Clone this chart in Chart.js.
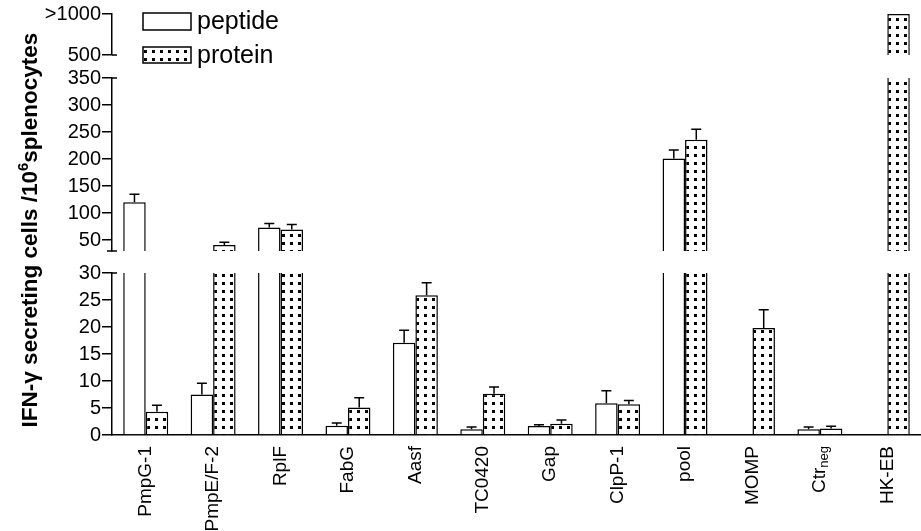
<!DOCTYPE html>
<html>
<head>
<meta charset="utf-8">
<script src="https://cdn.jsdelivr.net/npm/chart.js@4/dist/chart.umd.min.js"></script>
<style>
  html, body { margin: 0; padding: 0; background: #fff; }
  #wrap { position: relative; width: 921px; height: 531px; }
</style>
</head>
<body>
<div id="wrap"><canvas id="chart"></canvas></div>
<script>
// values
const categories = ['PmpG-1', 'PmpE/F-2', 'RplF', 'FabG', 'Aasf', 'TC0420', 'Gap', 'ClpP-1', 'pool', 'MOMP', 'Ctr_neg', 'HK-EB'];
const seriesNames = ['peptide', 'protein'];
const peptide    = [120, 7.5, 73.5, 1.7, 17.1, 1.05, 1.65, 5.9, 201, null, 1.05, null];
const peptideErr = [15, 2.1, 7.5, 0.5, 2.3, 0.45, 0.25, 2.3, 16, null, 0.45, null];
const protein    = [4.3, 41, 70, 5.1, 25.9, 7.65, 2.1, 5.7, 236, 19.8, 1.2, 1000];
const proteinErr = [1.2, 5, 9, 1.8, 2.3, 1.25, 0.7, 0.7, 19, 3.4, 0.4, null];

// broken y axis, three pieces
const topRange = [500, 1000];
const midRange = [30, 350];
const botRange = [0, 30];
const topTicks = [500, 1000];
const midTicks = [50, 100, 150, 200, 250, 300, 350];
const botTicks = [0, 5, 10, 15, 20, 25, 30];

const FONT = '"Liberation Sans", Arial, Helvetica, sans-serif';
const LW = 1.5;

// dotted fill used for the protein bars
const tile = document.createElement('canvas');
tile.width = 8; tile.height = 8;
(function () {
  const t = tile.getContext('2d');
  t.fillStyle = '#fff'; t.fillRect(0, 0, 8, 8);
  t.fillStyle = '#000'; t.fillRect(1, 2, 3, 3);
})();
function dots(ctx, x) {
  const p = ctx.createPattern(tile, 'repeat');
  p.setTransform(new DOMMatrix([1, 0, 0, 1, Math.round(x), 0]));
  return p;
}

// split a series over the three pieces of the axis
function piece(vals, range, isBottom) {
  return vals.map(v => {
    if (v == null) return null;
    if (isBottom) return Math.min(v, range[1]);
    if (v <= range[0]) return null;
    return [range[0], Math.min(v, range[1])];
  });
}

function makeSet(vals, range, axis, isBottom, isProtein) {
  return {
    label: isProtein ? seriesNames[1] : seriesNames[0],
    data: piece(vals, range, isBottom),
    yAxisID: axis,
    stack: isProtein ? 'prot' : 'pep',
    borderColor: '#000',
    borderSkipped: false,
    borderWidth: c => ({ left: LW, right: LW, bottom: 0, top: (vals[c.dataIndex] > range[1]) ? 0 : LW }),
    backgroundColor: c => {
      if (!isProtein) return '#fff';
      if (c.dataIndex === undefined) return dots(c.chart.ctx, 0);
      return dots(c.chart.ctx, c.chart.scales.x.getPixelForValue(c.dataIndex));
    }
  };
}

function yAxis(range, ticks, weight, stackWeight, fmt) {
  return {
    type: 'linear', position: 'left', stack: 'y', stackWeight: stackWeight, weight: weight, stacked: false,
    min: range[0], max: range[1],
    afterBuildTicks: a => { a.ticks = ticks.map(v => ({ value: v })); },
    afterFit: a => { a.width = 112; },
    grid: { drawOnChartArea: false, color: '#000', lineWidth: LW, tickLength: 10 },
    border: { color: '#000', width: LW },
    ticks: { color: '#000', padding: 1, autoSkip: false, font: { family: FONT, size: 20 }, callback: fmt || (v => v) }
  };
}
function gapAxis(weight, stackWeight) {
  return {
    type: 'linear', position: 'left', stack: 'y', stackWeight: stackWeight, weight: weight, min: 0, max: 1,
    afterFit: a => { a.width = 112; },
    ticks: { display: false }, grid: { display: false }, border: { display: false }
  };
}

function panelFor(v) {
  if (v > topRange[0]) return 'yTop';
  if (v > midRange[0]) return 'yMid';
  return 'yBot';
}

const errorBars = {
  id: 'errorBars',
  afterDatasetsDraw(chart) {
    const ctx = chart.ctx;
    ctx.save();
    ctx.strokeStyle = '#000';
    ctx.lineWidth = LW;
    [[peptide, peptideErr, 4], [protein, proteinErr, 5]].forEach(([vals, errs, ds]) => {
      const meta = chart.getDatasetMeta(ds);
      vals.forEach((v, i) => {
        if (v == null || errs[i] == null) return;
        const top = v + errs[i];
        const sc = chart.scales[panelFor(top)];
        const x = meta.data[i].x;
        const y0 = sc.getPixelForValue(Math.max(v, sc.min));
        const y1 = sc.getPixelForValue(top);
        ctx.beginPath();
        ctx.moveTo(x, y0); ctx.lineTo(x, y1);
        ctx.moveTo(x - 5, y1); ctx.lineTo(x + 5, y1);
        ctx.stroke();
      });
    });
    ctx.restore();
  }
};

const decorations = {
  id: 'decorations',
  afterDraw(chart) {
    const ctx = chart.ctx;
    const ax = chart.scales.yBot.right;
    ctx.save();
    ctx.strokeStyle = '#000';
    ctx.lineWidth = LW;
    // caps at the ends of the axis pieces
    ctx.beginPath();
    [chart.scales.yTop.bottom, chart.scales.yMid.top, chart.scales.yBot.top].forEach(y => {
      ctx.moveTo(ax, y); ctx.lineTo(ax + 5, y);
    });
    const mb = chart.scales.yMid.bottom;
    ctx.moveTo(ax - 5, mb); ctx.lineTo(ax + 5, mb);
    ctx.stroke();

    // category labels (rotated, with subscript for Ctr_neg)
    const xs = chart.scales.x;
    const yLab = chart.chartArea.bottom + 11;
    categories.forEach((c, i) => {
      const x = xs.getPixelForValue(i);
      ctx.save();
      ctx.translate(x, yLab);
      ctx.rotate(-Math.PI / 2);
      ctx.fillStyle = '#000';
      ctx.textBaseline = 'middle';
      ctx.textAlign = 'left';
      const parts = c.split('_');
      ctx.font = '19px ' + FONT;
      const w0 = ctx.measureText(parts[0]).width;
      let w1 = 0;
      if (parts[1]) { ctx.font = '13px ' + FONT; w1 = ctx.measureText(parts[1]).width; }
      ctx.font = '19px ' + FONT;
      ctx.fillText(parts[0], -(w0 + w1), 0);
      if (parts[1]) { ctx.font = '13px ' + FONT; ctx.fillText(parts[1], -w1, 5); }
      ctx.restore();
    });

    // y title with superscript
    ctx.save();
    ctx.translate(31, 230);
    ctx.rotate(-Math.PI / 2);
    ctx.fillStyle = '#000';
    ctx.textBaseline = 'middle';
    ctx.textAlign = 'left';
    const t1 = 'IFN-\u03b3 secreting cells /10', t2 = '6', t3 = 'splenocytes';
    ctx.font = 'bold 22.5px ' + FONT; const a = ctx.measureText(t1).width, c3 = ctx.measureText(t3).width;
    ctx.font = 'bold 15px ' + FONT; const b = ctx.measureText(t2).width;
    let x0 = -(a + b + c3) / 2;
    ctx.font = 'bold 22.5px ' + FONT; ctx.fillText(t1, x0, 0);
    ctx.font = 'bold 15px ' + FONT; ctx.fillText(t2, x0 + a, -7);
    ctx.font = 'bold 22.5px ' + FONT; ctx.fillText(t3, x0 + a + b, 0);
    ctx.restore();

    // legend
    const lx = 143;
    [[13, 17, '#fff'], [47, 16, dots(ctx, lx)]].forEach(([y, h, fill], k) => {
      ctx.fillStyle = fill;
      ctx.fillRect(lx, y, 48, h);
      ctx.strokeRect(lx, y, 48, h);
      ctx.fillStyle = '#000';
      ctx.font = '25px ' + FONT;
      ctx.textBaseline = 'middle';
      ctx.textAlign = 'left';
      ctx.fillText(seriesNames[k], lx + 54, y + h / 2 + 1);
    });
    ctx.restore();
  }
};

new Chart(document.getElementById('chart').getContext('2d'), {
  type: 'bar',
  data: {
    labels: categories,
    datasets: [
      makeSet(peptide, topRange, 'yTop', false, false),
      makeSet(protein, topRange, 'yTop', false, true),
      makeSet(peptide, midRange, 'yMid', false, false),
      makeSet(protein, midRange, 'yMid', false, true),
      makeSet(peptide, botRange, 'yBot', true, false),
      makeSet(protein, botRange, 'yBot', true, true)
    ]
  },
  options: {
    responsive: true,
    maintainAspectRatio: false,
    animation: false,
    layout: { padding: { left: 0, top: 14, right: 0, bottom: 96 } },
    datasets: { bar: { categoryPercentage: 0.667, barPercentage: 1 } },
    plugins: { legend: { display: false }, tooltip: { enabled: false } },
    scales: {
      x: {
        ticks: { display: false },
        grid: { display: false, drawTicks: false, tickLength: 0 },
        border: { color: '#000', width: LW }
      },
      yTop: yAxis(topRange, topTicks, 5, 41, v => v === 1000 ? '>1000' : v),
      gap1: gapAxis(4, 23),
      yMid: yAxis(midRange, midTicks, 3, 173),
      gap2: gapAxis(2, 22),
      yBot: yAxis(botRange, botTicks, 1, 162)
    }
  },
  plugins: [errorBars, decorations]
});
</script>
</body>
</html>
